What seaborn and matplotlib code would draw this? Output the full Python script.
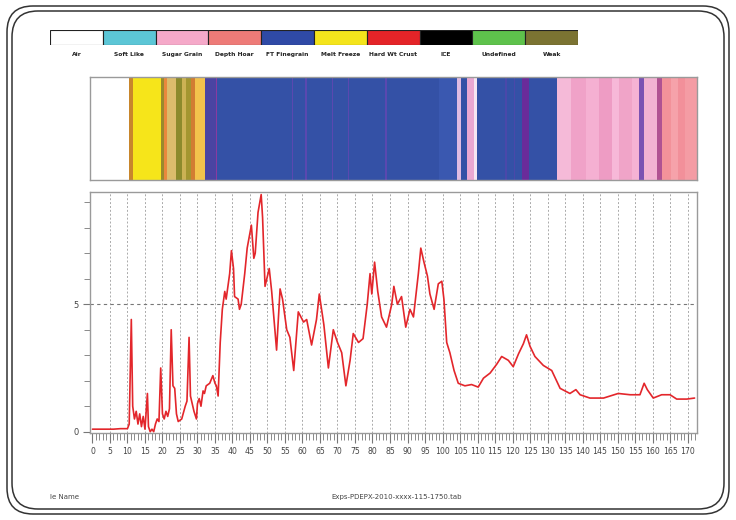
import matplotlib
matplotlib.use("Agg")
import matplotlib.pyplot as plt
from matplotlib.patches import FancyBboxPatch
from matplotlib.transforms import IdentityTransform
from matplotlib.ticker import MultipleLocator
import seaborn as sns
import pandas as pd

# ---------------- data ----------------
depth = [0, 2, 4, 6, 8, 10, 10.5, 11.1, 11.5, 12,
         12.5, 13, 13.5, 14, 14.5, 15, 15.7, 16, 16.5, 17,
         17.5, 18, 18.5, 19, 19.5, 20, 20.5, 21, 21.5, 22,
         22.5, 23, 23.5, 24, 24.5, 25.5, 26.5, 27, 27.6, 28,
         28.5, 29, 29.7, 30, 30.5, 31, 31.6, 32, 32.5, 33.5,
         34.4, 35, 35.4, 35.9, 36.5, 37.1, 37.8, 38.2, 39.2, 39.7,
         40.3, 40.6, 41.6, 42, 42.5, 43.5, 44.2, 45.4, 46.1, 46.5,
         47.3, 48.2, 48.6, 49.3, 50.5, 51.2, 52.6, 53.6, 54.3, 55.5,
         56.4, 57.5, 58.8, 60.3, 61.2, 62.6, 64.0, 64.8, 66.1, 67.4,
         68.8, 70, 71.2, 72.4, 73.6, 74.5, 76, 77.3, 78.5, 79.3,
         79.8, 80.6, 81.5, 82.6, 84, 85.5, 86.1, 87.1, 88.3, 89.5,
         90.7, 91.7, 93.1, 93.8, 94.7, 95.7, 96.4, 97.6, 98.8, 99.8,
         100.4, 101.2, 102.1, 103.3, 104.5, 106.4, 108.3, 110.2, 111.7, 113.6,
         115.5, 116.9, 118.8, 120.2, 121.7, 123.1, 124.0, 125.0, 126.4, 128.8,
         131.2, 133.6, 136.4, 138.1, 139.3, 142.1, 146, 150.2, 153.6, 156.4,
         157.6, 158.5, 160.2, 162.6, 165, 166.9, 169.8, 172]
force = [0.1, 0.1, 0.1, 0.1, 0.12, 0.12, 0.3, 4.4, 1.0, 0.5,
         0.8, 0.3, 0.7, 0.2, 0.6, 0.1, 1.5, 0.2, 0.0, 0.1,
         0.0, 0.3, 0.5, 0.4, 2.5, 0.7, 0.5, 0.8, 0.6, 0.9,
         4.0, 1.8, 1.7, 0.7, 0.4, 0.5, 1.0, 1.2, 3.7, 1.4,
         1.1, 0.8, 0.5, 1.1, 1.3, 1.0, 1.6, 1.5, 1.8, 1.9,
         2.2, 1.9, 1.8, 1.4, 3.5, 4.8, 5.5, 5.2, 6.2, 7.1,
         6.4, 5.3, 5.2, 4.8, 5.0, 6.2, 7.2, 8.1, 6.8, 7.0,
         8.6, 9.3, 8.4, 5.7, 6.4, 5.5, 3.2, 5.6, 5.2, 4.0,
         3.7, 2.4, 4.7, 4.3, 4.4, 3.4, 4.4, 5.4, 4.2, 2.5,
         4.0, 3.5, 3.1, 1.8, 2.8, 3.85, 3.5, 3.65, 5.0, 6.2,
         5.4, 6.65, 5.5, 4.5, 4.1, 5.0, 5.7, 5.0, 5.3, 4.1,
         4.8, 4.5, 6.2, 7.2, 6.65, 6.1, 5.4, 4.8, 5.8, 5.9,
         5.2, 3.5, 3.1, 2.4, 1.9, 1.8, 1.85, 1.75, 2.1, 2.3,
         2.65, 2.95, 2.8, 2.55, 3.05, 3.45, 3.8, 3.35, 2.95, 2.6,
         2.4, 1.7, 1.5, 1.65, 1.45, 1.32, 1.32, 1.5, 1.45, 1.45,
         1.9, 1.65, 1.32, 1.45, 1.45, 1.28, 1.28, 1.32]

legend_labels = ["Air", "Soft Like", "Sugar Grain", "Depth Hoar", "FT Finegrain",
                 "Melt Freeze", "Hard Wt Crust", "ICE", "Undefined", "Weak"]
legend_colors = ["#ffffff", "#5cc6d6", "#f5a9c9", "#ee7b78", "#2f4aa6",
                 "#f4e41c", "#e42428", "#000000", "#5ec24c", "#7b7332"]

layer_start = [10.7, 11.9, 19.8, 20.7, 21.7, 24.1, 26.0, 27.0, 28.4, 29.6,
               32.5, 35.5, 36.0, 57.3, 57.7, 61.1, 61.5, 68.6, 69.0, 73.2,
               73.6, 83.9, 84.3, 99.2, 104.5, 105.5, 107.4, 109.3, 110.2, 118.2,
               118.6, 120.6, 121.0, 123.1, 125.0, 133.1, 136.9, 141.2, 145.0, 148.8,
               150.7, 154.5, 156.4, 157.9, 161.7, 163.1, 165.5, 167.5, 169.5]
layer_end = [11.9, 19.8, 20.7, 21.7, 24.1, 26.0, 27.0, 28.4, 29.6, 32.5,
             35.5, 36.0, 57.3, 57.7, 61.1, 61.5, 68.6, 69.0, 73.2, 73.6,
             83.9, 84.3, 99.2, 104.5, 105.5, 107.4, 109.3, 110.2, 118.2, 118.6,
             120.6, 121.0, 123.1, 125.0, 133.1, 136.9, 141.2, 145.0, 148.8, 150.7,
             154.5, 156.4, 157.9, 161.7, 163.1, 165.5, 167.5, 169.5, 172.7]
layer_color = ["#c8862c", "#f6e51a", "#9a8a2c", "#e9883c", "#dcbc6c", "#8c8a2c", "#ccb254", "#a39630", "#d27c32", "#f3c24c",
               "#4a44a2", "#8a3aa0", "#3451a6", "#5a48b0", "#3451a6", "#5a48b0", "#3451a6", "#5a48b0", "#3451a6", "#5a48b0",
               "#3451a6", "#5a48b0", "#3451a6", "#3a58b0", "#e0bce2", "#3451a6", "#eaa8d2", "#f6e6f2", "#3451a6", "#4a48aa",
               "#3451a6", "#4a48aa", "#3451a6", "#6a2c9a", "#3451a6", "#f5bad8", "#f0a2c8", "#f5b0d2", "#ee9cc4", "#f7b8d8",
               "#f0a4c8", "#f5b2d4", "#7a52b2", "#f2b2d2", "#b05292", "#f3929a", "#f6a2aa", "#f2909a", "#f49ca4"]

x_ticks = list(range(0, 171, 5))
y_labels = {0: "0", 5: "5"}

# ---------------- figure ----------------
sns.set_style("white")
plt.rcParams['font.family'] = ['DejaVu Sans']
fig = plt.figure(figsize=(7.36, 5.2), dpi=100)
W, H = 736.0, 520.0

def rect(l, t, r, b):
    return [l / W, (H - b) / H, (r - l) / W, (b - t) / H]

# double rounded frame
for (x0, y0, w, h) in [(7, 6, 722, 508), (12, 11, 712, 498)]:
    fig.patches.append(FancyBboxPatch((x0, y0), w, h,
                                      boxstyle="round,pad=0,rounding_size=26",
                                      transform=IdentityTransform(),
                                      fill=False, edgecolor="#333333", linewidth=1.1))

xmin, xmax = -0.7, 172.7

# legend colour bar
axl = fig.add_axes(rect(50, 30, 578, 45))
leg_df = pd.DataFrame({"label": legend_labels, "v": [1] * len(legend_labels)})
sns.barplot(data=leg_df, x="label", y="v", hue="label", palette=legend_colors,
            legend=False, width=1.0, edgecolor="#222222", linewidth=0.8, ax=axl, saturation=1)
axl.set_ylim(0, 1)
axl.set_xlim(-0.5, len(legend_labels) - 0.5)
axl.set_xlabel("")
axl.set_ylabel("")
axl.set_yticks([])
axl.set_xticks(range(len(legend_labels)))
axl.set_xticklabels(legend_labels, fontsize=4.3, fontweight="bold", color="#222222")
axl.tick_params(axis="x", length=0, pad=5)
for s in axl.spines.values():
    s.set_visible(False)

# stratigraphy band
axb = fig.add_axes(rect(90, 77, 697, 180))
widths = [e - s for s, e in zip(layer_start, layer_end)]
axb.barh(y=0.5, width=widths, left=layer_start, height=1.0,
         color=layer_color, edgecolor=layer_color, linewidth=0.3, antialiased=False)
axb.set_xlim(xmin, xmax)
axb.set_ylim(0, 1.02)
axb.set_xticks([])
axb.set_yticks([])
for s in axb.spines.values():
    s.set_color("#9a9a9a")
    s.set_linewidth(1.0)

# main force profile
ax = fig.add_axes(rect(90, 192, 697, 433))
prof = pd.DataFrame({"depth": depth, "force": force})
sns.lineplot(data=prof, x="depth", y="force", ax=ax, color="#e3262b",
             linewidth=1.2, estimator=None, sort=False)
ax.set_xlim(xmin, xmax)
ax.set_ylim(-0.05, 9.4)
ax.set_xlabel("")
ax.set_ylabel("")
ax.set_xticks(x_ticks)
ax.set_xticklabels([str(t) for t in x_ticks], fontsize=5.6, color="#444444")
ax.xaxis.set_minor_locator(MultipleLocator(1))
ax.set_yticks(list(y_labels.keys()))
ax.set_yticklabels(list(y_labels.values()), fontsize=6, color="#444444")
ax.yaxis.set_minor_locator(MultipleLocator(1))
ax.tick_params(which="both", bottom=True, left=True, direction="out")
ax.tick_params(axis="x", which="major", length=7, color="#777777", width=0.8, pad=3)
ax.tick_params(axis="x", which="minor", length=5, color="#8a8a8a", width=0.7)
ax.tick_params(axis="y", which="major", length=5, color="#777777", width=0.8, pad=3)
ax.tick_params(axis="y", which="minor", length=4, color="#8a8a8a", width=0.7)
for xv in x_ticks[1:]:
    ax.axvline(xv, color="#aaaaaa", linewidth=0.7, linestyle=(0, (2, 2)), zorder=0)
ax.axhline(5, color="#777777", linewidth=0.8, linestyle=(0, (3, 3)), zorder=0)
for s in ax.spines.values():
    s.set_color("#9a9a9a")
    s.set_linewidth(1.0)

# footer texts
fig.text(50 / W, 1 - 497 / H, "le Name", fontsize=5, color="#444444", va="center", ha="left")
fig.text(397 / W, 1 - 497 / H, "Exps-PDEPX-2010-xxxx-115-1750.tab", fontsize=5,
         color="#444444", va="center", ha="center")

fig.savefig("out.png", dpi=100)
